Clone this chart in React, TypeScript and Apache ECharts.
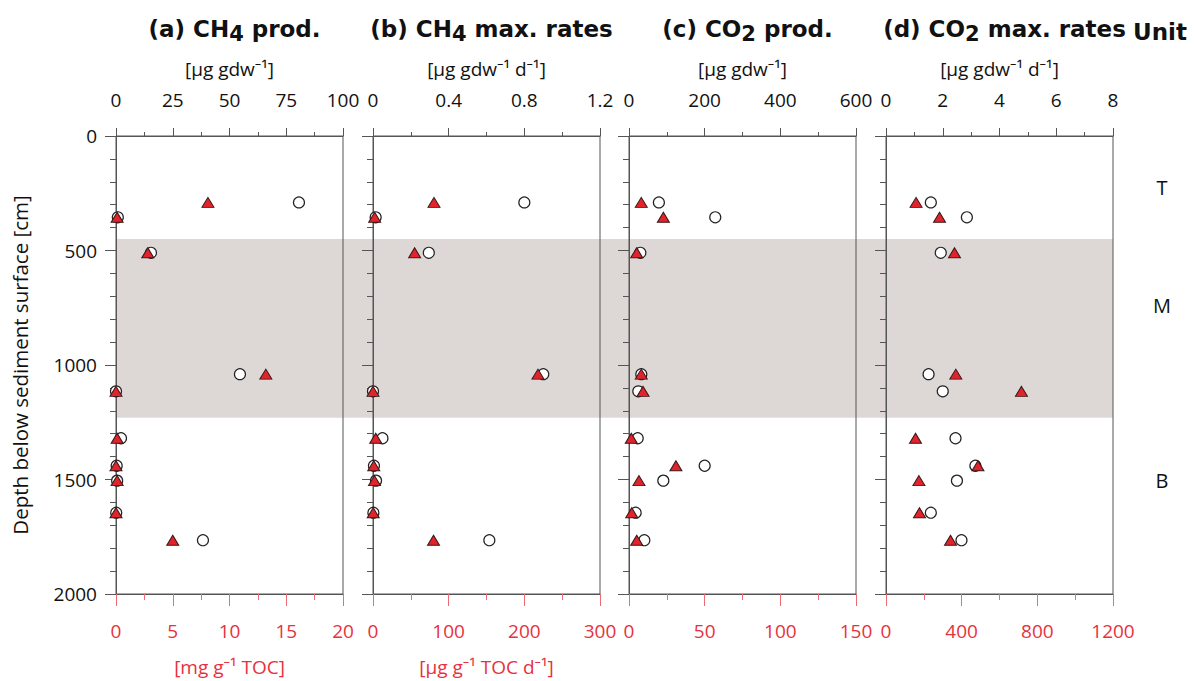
import React, { useEffect, useRef } from "react";
import * as echarts from "echarts";

const depths = [290, 355, 510, 1040, 1115, 1320, 1440, 1505, 1645, 1765];

// open circles, against the top axis (per g dry weight)
const ch4ProdGdw = [80.6, 0.8, 15.4, 54.6, 0, 2.2, 0.3, 0.5, 0.1, 38.3];
const ch4RateGdw = [0.8, 0.014, 0.295, 0.9, 0, 0.05, 0.005, 0.016, 0.002, 0.615];
const co2ProdGdw = [79, 228, 30, 32.5, 24.6, 23, 200, 90.7, 17.6, 40.5];
const co2RateGdw = [1.58, 2.85, 1.93, 1.5, 2.0, 2.45, 3.15, 2.5, 1.58, 2.66];

// red triangles, against the bottom axis (per g TOC)
const ch4ProdToc = [8.1, 0.1, 2.8, 13.2, 0, 0.1, 0, 0.1, 0, 5.0];
const ch4RateToc = [80.6, 2.2, 55, 218, 0, 3.6, 1, 2, 0.3, 80];
const co2ProdToc = [8.1, 22.7, 5.1, 8.1, 9.3, 1.5, 31, 6.6, 1.8, 5.1];
const co2RateToc = [159, 283, 362, 369, 716, 156, 486, 174, 177, 341];

const titles = ["(a) CH", "(b) CH", "(c) CO", "(d) CO"];
const titleSubs = ["4", "4", "2", "2"];
const titleTails = [" prod.", " max. rates", " prod.", " max. rates"];
const topNames = ["[µg gdw⁻¹]", "[µg gdw⁻¹ d⁻¹]", "[µg gdw⁻¹]", "[µg gdw⁻¹ d⁻¹]"];
const bottomNames = ["[mg g⁻¹ TOC]", "[µg g⁻¹ TOC d⁻¹]", "", ""];
const topMax = [100, 1.2, 600, 8];
const topInterval = [25, 0.4, 200, 2];
const bottomMax = [20, 300, 150, 1200];
const bottomInterval = [5, 100, 50, 400];
const depthMin = 0;
const depthMax = 2000;
const depthInterval = 500;
const bandTop = 450;
const bandBottom = 1230;
const units = ["T", "M", "B"];
const unitDepths = [227, 738, 1506];

const circles = [ch4ProdGdw, ch4RateGdw, co2ProdGdw, co2RateGdw];
const triangles = [ch4ProdToc, ch4RateToc, co2ProdToc, co2RateToc];

const FONT = "'Open Sans', 'Noto Sans', sans-serif";
const TFONT = "'DejaVu Sans', sans-serif";
const RED = "#e8313c";
const RED_TICK = "#ef6a72";
const DARK = "#555";
const LS = 19;

const gridLefts = [116, 373, 629, 886];
const gridW = 227;
const gridTop = 136;
const gridH = 458;

const fmt = (v: number) => String(Math.round(v * 1000) / 1000);

export default function App() {
  const ref = useRef<HTMLDivElement>(null);
  useEffect(() => {
    document.body.style.margin = "0";
    const chart = echarts.init(ref.current!, undefined, { renderer: "svg" });
    const grid: any[] = [];
    const xAxis: any[] = [];
    const yAxis: any[] = [];
    const series: any[] = [];
    const title: any[] = [];
    for (let i = 0; i < 4; i++) {
      grid.push({
        left: gridLefts[i],
        top: gridTop,
        width: gridW,
        height: gridH,
        show: true,
        borderColor: DARK,
        borderWidth: 1,
        backgroundColor: "transparent",
      });
      xAxis.push({
        type: "value",
        gridIndex: i,
        position: "top",
        min: 0,
        max: topMax[i],
        interval: topInterval[i],
        axisLine: { show: true, onZero: false, lineStyle: { color: DARK, width: 1 } },
        axisTick: { show: true, inside: false, length: 8, lineStyle: { color: DARK } },
        minorTick: { show: true, splitNumber: 2, length: 4, lineStyle: { color: DARK } },
        splitLine: { show: false },
        axisLabel: { margin: 27, color: "#111", fontSize: LS, fontFamily: FONT, formatter: fmt },
        name: topNames[i],
        nameLocation: "middle",
        nameGap: 58,
        nameTextStyle: { color: "#111", fontSize: LS, fontFamily: FONT },
      });
      xAxis.push({
        type: "value",
        gridIndex: i,
        position: "bottom",
        min: 0,
        max: bottomMax[i],
        interval: bottomInterval[i],
        axisLine: { show: true, onZero: false, lineStyle: { color: DARK, width: 1 } },
        axisTick: { show: true, inside: false, length: 12, lineStyle: { color: RED_TICK } },
        minorTick: { show: true, splitNumber: 2, length: 6, lineStyle: { color: RED_TICK } },
        splitLine: { show: false },
        axisLabel: { margin: 27, color: RED, fontSize: LS, fontFamily: FONT, formatter: fmt },
        name: bottomNames[i],
        nameLocation: "middle",
        nameGap: 63,
        nameTextStyle: { color: RED, fontSize: LS, fontFamily: FONT },
      });
      yAxis.push({
        type: "value",
        gridIndex: i,
        inverse: true,
        min: depthMin,
        max: depthMax,
        interval: depthInterval,
        axisLine: { show: true, onZero: false, lineStyle: { color: DARK, width: 1 } },
        axisTick: { show: true, inside: false, length: 11, lineStyle: { color: DARK } },
        minorTick: { show: true, splitNumber: 5, length: 6, lineStyle: { color: DARK } },
        splitLine: { show: false },
        axisLabel: { show: i === 0, margin: 19, color: "#111", fontSize: LS, fontFamily: FONT, formatter: fmt },
        name: i === 0 ? "Depth below sediment surface [cm]" : "",
        nameLocation: "middle",
        nameGap: 86,
        nameRotate: 90,
        nameTextStyle: { color: "#111", fontSize: 20.5, fontFamily: FONT },
      });
      series.push({
        type: "scatter",
        xAxisIndex: 2 * i,
        yAxisIndex: i,
        symbol: "circle",
        symbolSize: 11,
        itemStyle: { color: "#fff", borderColor: "#222", borderWidth: 1.2, opacity: 1 },
        data: depths.map((d, k) => [circles[i][k], d]),
        z: 3,
      });
      series.push({
        type: "scatter",
        xAxisIndex: 2 * i + 1,
        yAxisIndex: i,
        symbol: "triangle",
        symbolSize: [12, 10],
        itemStyle: { color: "#e3232c", borderColor: "#3a1818", borderWidth: 1, opacity: 1 },
        data: depths.map((d, k) => [triangles[i][k], d]),
        z: 4,
      });
      title.push({
        text: `{b|${titles[i]}}{s|${titleSubs[i]}}{b|${titleTails[i]}}`,
        left: gridLefts[i] + gridW / 2,
        top: 12,
        textAlign: "center",
        textStyle: {
          rich: {
            b: { fontFamily: TFONT, fontWeight: "bold", fontSize: 23, color: "#111", lineHeight: 30, verticalAlign: "top" },
            s: { fontFamily: TFONT, fontWeight: "bold", fontSize: 21, color: "#111", lineHeight: 30, padding: [6, 0, 0, 0], verticalAlign: "top" },
          },
        },
      });
    }
    title.push({
      text: "Unit",
      left: 1128,
      top: 12,
      textStyle: { fontFamily: TFONT, fontWeight: "bold", fontSize: 23, color: "#111", lineHeight: 30 },
    });

    chart.setOption({
      animation: false,
      title,
      grid,
      xAxis,
      yAxis,
      series,
    });

    const p0 = chart.convertToPixel({ xAxisIndex: 0, yAxisIndex: 0 }, [0, bandTop]) as number[];
    const p1 = chart.convertToPixel({ xAxisIndex: 6, yAxisIndex: 3 }, [topMax[3], bandBottom]) as number[];
    const unitX = (chart.convertToPixel({ xAxisIndex: 6, yAxisIndex: 3 }, [topMax[3], 0]) as number[])[0] + 49;
    const graphic: any[] = [
      {
        type: "rect",
        z: -10,
        silent: true,
        shape: { x: p0[0], y: p0[1], width: p1[0] - p0[0], height: p1[1] - p0[1] },
        style: { fill: "#ddd8d6" },
      },
    ];
    units.forEach((u, k) => {
      const py = (chart.convertToPixel({ xAxisIndex: 6, yAxisIndex: 3 }, [0, unitDepths[k]]) as number[])[1];
      graphic.push({
        type: "text",
        x: unitX,
        y: py,
        style: { text: u, fontFamily: FONT, fontSize: 20, fill: "#111", align: "center", verticalAlign: "middle" },
      });
    });
    chart.setOption({ graphic });

    return () => chart.dispose();
  }, []);
  return <div ref={ref} style={{ width: 1195, height: 681 }} />;
}
